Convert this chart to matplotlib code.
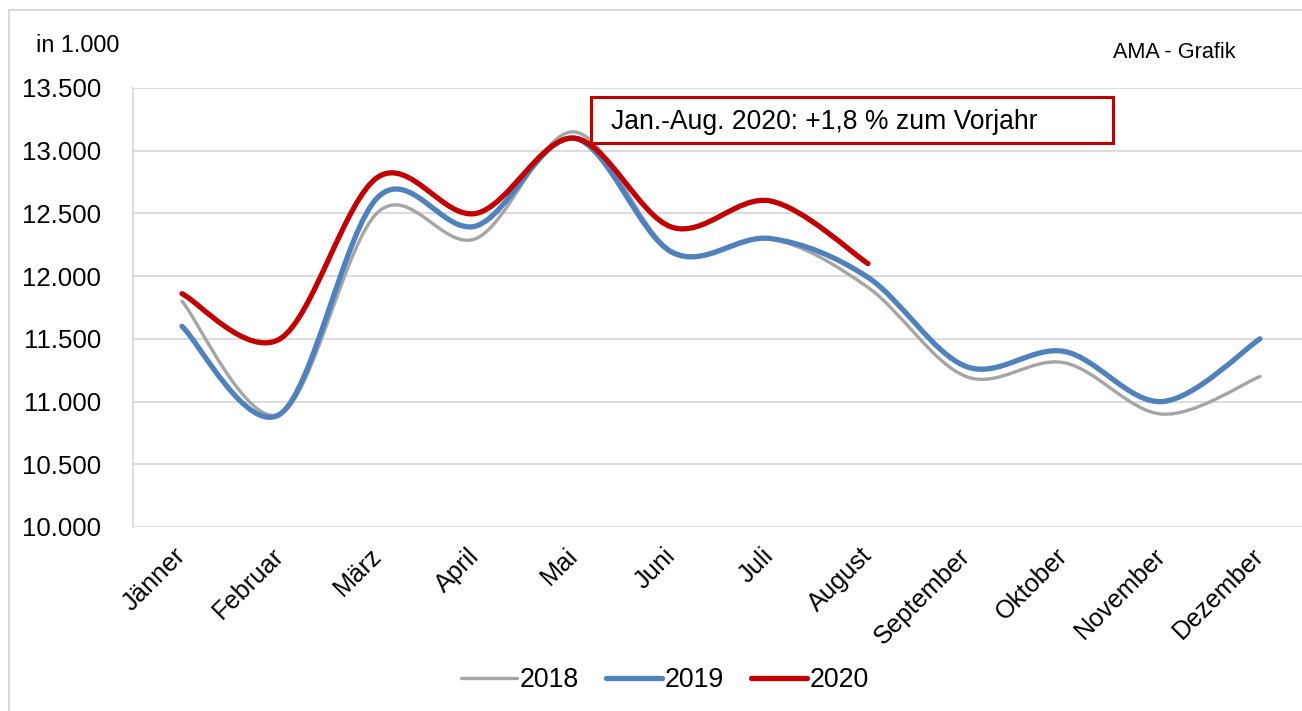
import matplotlib
matplotlib.use("Agg")
import matplotlib.pyplot as plt
from matplotlib.path import Path
from matplotlib.patches import PathPatch, Rectangle
from matplotlib.lines import Line2D
import numpy as np

plt.rcParams['font.family'] = ['Liberation Sans', 'DejaVu Sans']

months = ["Jänner", "Februar", "März", "April", "Mai", "Juni", "Juli",
          "August", "September", "Oktober", "November", "Dezember"]
v2018 = [11800, 10900, 12510, 12300, 13150, 12200, 12300, 11910, 11200, 11310, 10900, 11200]
v2019 = [11600, 10900, 12630, 12400, 13100, 12190, 12300, 11990, 11280, 11400, 11000, 11500]
v2020 = [11860, 11500, 12790, 12500, 13100, 12390, 12600, 12100]
series_names = ["2018", "2019", "2020"]
colors = ["#A5A5A5", "#4F81BD", "#C00000"]
widths = [2.4, 3.8, 3.8]
yticks = [10000, 10500, 11000, 11500, 12000, 12500, 13000, 13500]
ytick_labels = ["10.000", "10.500", "11.000", "11.500", "12.000", "12.500", "13.000", "13.500"]
annotation = "Jan.-Aug. 2020: +1,8 % zum Vorjahr"

W, H = 1302, 711
fig = plt.figure(figsize=(W / 100, H / 100), dpi=100)

# outer chart border
fig.patches.append(Rectangle((9 / W, -0.1), 1.2, 1 - 10 / H + 0.1, transform=fig.transFigure,
                             fill=False, edgecolor="#D9D9D9", linewidth=1.5))

left, right, top, bottom = 133, 1309, 88, 527
ax = fig.add_axes([left / W, 1 - bottom / H, (right - left) / W, (bottom - top) / H])
ax.set_xlim(-0.5, 11.5)
ax.set_ylim(10000, 13500)
ax.set_yticks(yticks)
ax.set_yticklabels(ytick_labels, fontsize=18.6)
ax.grid(axis="y", color="#D9D9D9", linewidth=1.3)
ax.set_axisbelow(True)
for s in ["top", "right", "bottom"]:
    ax.spines[s].set_visible(False)
ax.spines["left"].set_color("#D9D9D9")
ax.spines["left"].set_linewidth(1.3)
ax.tick_params(axis="y", length=0, pad=23)
ax.tick_params(axis="x", length=0)
ax.set_xticks(range(len(months)))
ax.set_xticklabels([])
for i, m in enumerate(months):
    ax.annotate(m, xy=(i, 10000), xycoords="data", xytext=(0, -18), textcoords="offset points",
                rotation=45, rotation_mode="anchor", ha="right", va="center", fontsize=18.3)


def smooth_path(ys):
    xs = np.arange(len(ys), dtype=float)
    pts = np.column_stack([xs, np.asarray(ys, dtype=float)])
    verts = [pts[0]]
    codes = [Path.MOVETO]
    n = len(pts)
    for i in range(n - 1):
        p0 = pts[i - 1] if i > 0 else pts[i]
        p1 = pts[i]
        p2 = pts[i + 1]
        p3 = pts[i + 2] if i + 2 < n else pts[i + 1]
        c1 = p1 + (p2 - p0) / 6.0
        c2 = p2 - (p3 - p1) / 6.0
        verts += [c1, c2, p2]
        codes += [Path.CURVE4] * 3
    return Path(verts, codes)


handles = []
for vals, name, c, lw in zip([v2018, v2019, v2020], series_names, colors, widths):
    patch = PathPatch(smooth_path(vals), facecolor="none", edgecolor=c, linewidth=lw,
                      capstyle="round", joinstyle="round", transform=ax.transData)
    ax.add_patch(patch)
    handles.append(Line2D([], [], color=c, linewidth=lw, solid_capstyle="round"))

fig.legend(handles, series_names, loc="center", bbox_to_anchor=(665 / W, 1 - 680 / H),
           ncol=3, frameon=False, fontsize=19.3, handlelength=2.1, handletextpad=0.1,
           columnspacing=1.0)

fig.text(36 / W, 1 - 45 / H, "in 1.000", fontsize=16.9, va="center", ha="left")
fig.text(1113 / W, 1 - 53 / H, "AMA - Grafik", fontsize=15.6, va="center", ha="left")

# annotation box
fig.patches.append(Rectangle((591 / W, 1 - 143 / H), (1113 - 591) / W, (143 - 97) / H,
                             transform=fig.transFigure, facecolor="white",
                             edgecolor="#C00000", linewidth=2.2, zorder=5))
fig.text(611 / W, 1 - 122 / H, annotation, fontsize=19.1, va="center", ha="left", zorder=6)

fig.savefig("out.png", dpi=100)
